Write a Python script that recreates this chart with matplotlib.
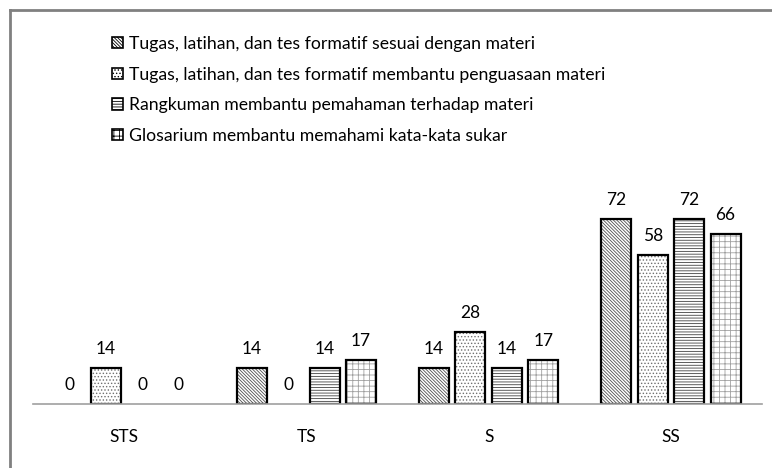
import matplotlib.pyplot as plt
from matplotlib.patches import Patch
from matplotlib.lines import Line2D
import numpy as np

# Data
categories = ['STS', 'TS', 'S', 'SS']
series_names = [
    'Tugas, latihan, dan tes formatif sesuai dengan materi',
    'Tugas, latihan, dan tes formatif membantu penguasaan materi',
    'Rangkuman membantu pemahaman terhadap materi',
    'Glosarium membantu memahami kata-kata sukar',
]
tugas_sesuai = [0, 14, 14, 72]
tugas_membantu = [14, 0, 28, 58]
rangkuman = [0, 14, 14, 72]
glosarium = [0, 17, 17, 66]

series_values = [tugas_sesuai, tugas_membantu, rangkuman, glosarium]
hatches = ['\\' * 10, '.....', '------', '+++']
hatch_colors = ['#505050', '#707070', '#404040', '#a0a0a0']

plt.rcParams['font.family'] = ['Lato', 'DejaVu Sans']
plt.rcParams['hatch.linewidth'] = 0.6

fig = plt.figure(figsize=(7.72, 4.68), dpi=100)
W, H = 772, 468
ax = fig.add_axes([33 / W, (H - 404) / H, (762 - 33) / W, (404 - 20) / H])

x = np.arange(len(categories))
width = 0.165
offsets = [-0.3, -0.1, 0.1, 0.3]

for vals, off, hatch, hc in zip(series_values, offsets, hatches, hatch_colors):
    # hatched fill first, then a black outline on top
    ax.bar(x + off, vals, width, color='white', edgecolor=hc, hatch=hatch, linewidth=0)
    edges = ['black' if v > 0 else 'none' for v in vals]
    bars = ax.bar(x + off, vals, width, fill=False, edgecolor=edges, linewidth=1.6)
    for b, v in zip(bars, vals):
        ax.annotate(str(v), (b.get_x() + b.get_width() / 2, v), xytext=(0, 8),
                    textcoords='offset points', ha='center', va='bottom', fontsize=12.5)

ax.set_xlim(-0.5, 3.5)
ax.set_ylim(0, 149.4)
ax.set_xticks(x)
ax.set_xticklabels(categories, fontsize=12.5)
ax.set_yticks([])
ax.tick_params(axis='x', length=0, pad=18)
for side in ['left', 'right', 'top']:
    ax.spines[side].set_visible(False)
ax.spines['bottom'].set_color('#a0a0a0')
ax.spines['bottom'].set_linewidth(1.2)

handles = [Patch(facecolor='white', edgecolor='black', hatch=h, linewidth=1.2) for h in hatches]
fig.legend(handles, series_names, loc='upper left', bbox_to_anchor=(112 / W, 1 - 36 / H),
           frameon=False, fontsize=12.7, handlelength=0.6, handleheight=0.6,
           handletextpad=0.35, labelspacing=0.83, borderaxespad=0, borderpad=0)

# chart border (only top and left edges are visible in the crop)
fig.add_artist(Line2D([10 / W, 10 / W], [0, 1 - 10 / H], color='#808080', linewidth=2))
fig.add_artist(Line2D([10 / W, 1], [1 - 10 / H, 1 - 10 / H], color='#808080', linewidth=2))

fig.savefig('out.png', dpi=100)
